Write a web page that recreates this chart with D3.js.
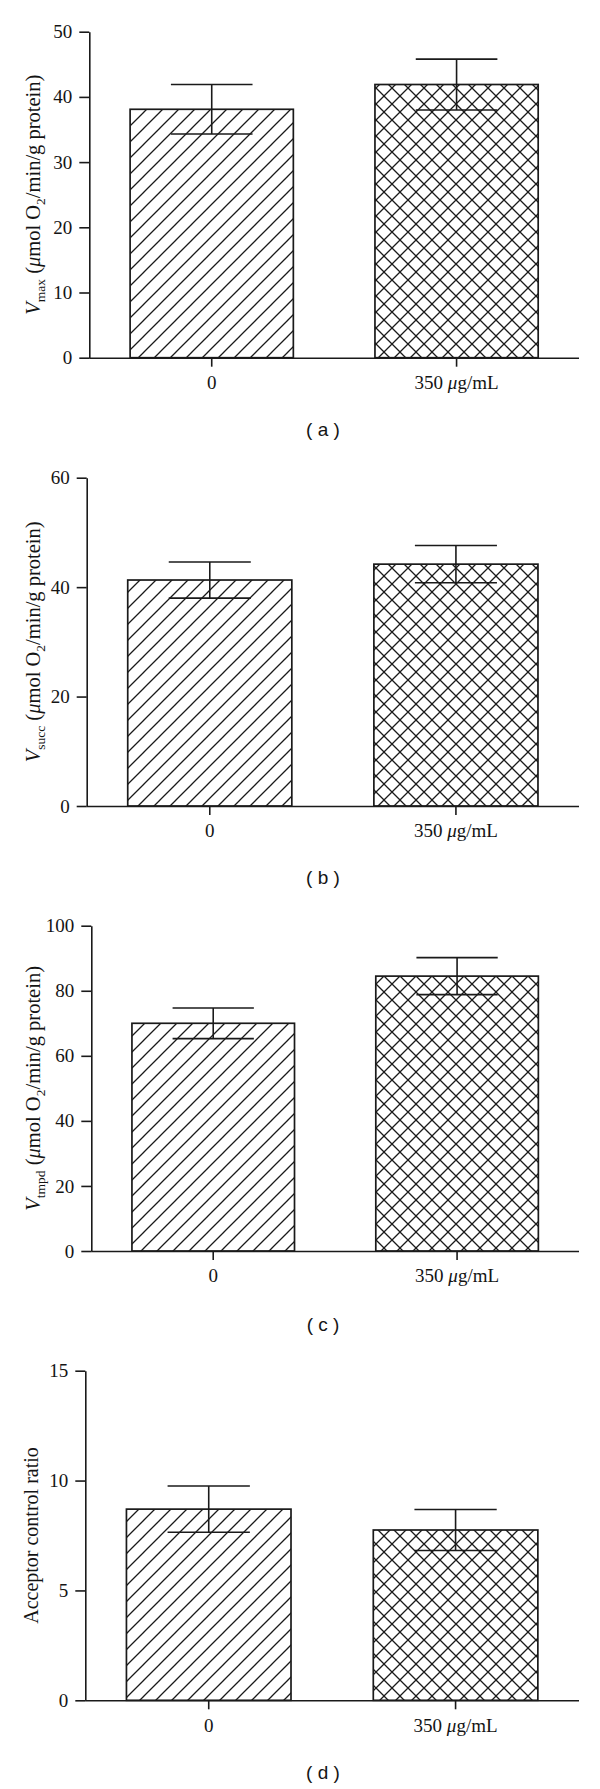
<!DOCTYPE html>
<html lang="en">
<head>
<meta charset="UTF-8">
<title>Mitochondrial respiration panels</title>
<script src="https://d3js.org/d3.v7.min.js"></script>
<style>
    body { margin: 0; background: #fff; }
    svg text { font-family: "Liberation Serif", "Times New Roman", serif; fill: #141414; }
    .tick text { font-size: 19px; }
    .ylab { font-size: 20.5px; }
    .ylab.plain { font-size: 20px; }
    .caption { font-family: "Liberation Sans", Arial, sans-serif; font-size: 19px; }
</style>
</head>
<body>
<svg width="600" height="1789"></svg>
<script>
    // categories on the x axis
    const groups = ["0", "350 μg/mL"];
    const captions = ["( a )", "( b )", "( c )", "( d )"];

    // means and SEM
    const vmaxMean = [38.1, 41.9];
    const vmaxSem = [3.8, 3.9];
    const vsuccMean = [41.3, 44.2];
    const vsuccSem = [3.3, 3.4];
    const vtmpdMean = [70.0, 84.5];
    const vtmpdSem = [4.7, 5.7];
    const acrMean = [8.7, 7.75];
    const acrSem = [1.05, 0.93];

    // y axis ticks
    const vmaxTicks = [0, 10, 20, 30, 40, 50];
    const vsuccTicks = [0, 20, 40, 60];
    const vtmpdTicks = [0, 20, 40, 60, 80, 100];
    const acrTicks = [0, 5, 10, 15];

    // axis titles (subscript parts)
    const vSubs = ["max", "succ", "tmpd", null];

    const panels = [
        {mean: vmaxMean, sem: vmaxSem, ticks: vmaxTicks, sub: vSubs[0], cap: captions[0],
         top: 31.7, bottom: 357.7, left: 89.3, labX: 33, capY: 436},
        {mean: vsuccMean, sem: vsuccSem, ticks: vsuccTicks, sub: vSubs[1], cap: captions[1],
         top: 477.7, bottom: 806, left: 86.7, labX: 33, capY: 884},
        {mean: vtmpdMean, sem: vtmpdSem, ticks: vtmpdTicks, sub: vSubs[2], cap: captions[2],
         top: 925.7, bottom: 1251, left: 91.3, labX: 33, capY: 1331},
        {mean: acrMean, sem: acrSem, ticks: acrTicks, sub: vSubs[3], cap: captions[3],
         top: 1370.7, bottom: 1700.3, left: 85.3, labX: 31, capY: 1779}
    ];
    const right = 579;
    const ink = "#1a1a1a";

    const svg = d3.select("svg");

    // hatch patterns
    const defs = svg.append("defs");
    const p1 = defs.append("pattern").attr("id", "diag")
        .attr("patternUnits", "userSpaceOnUse").attr("width", 16).attr("height", 16);
    p1.append("rect").attr("width", 16).attr("height", 16).attr("fill", "#fff");
    p1.append("path").attr("d", "M-4,4L4,-4M0,16L16,0M12,20L20,12")
        .attr("stroke", ink).attr("stroke-width", 1.3);
    const p2 = defs.append("pattern").attr("id", "cross")
        .attr("patternUnits", "userSpaceOnUse").attr("width", 16).attr("height", 16);
    p2.append("rect").attr("width", 16).attr("height", 16).attr("fill", "#fff");
    p2.append("path").attr("d", "M-4,4L4,-4M0,16L16,0M12,20L20,12M-4,12L4,20M0,0L16,16M12,-4L20,4")
        .attr("stroke", ink).attr("stroke-width", 1.3);
    const fills = ["url(#diag)", "url(#cross)"];

    panels.forEach(function (p) {
        const g = svg.append("g");

        const x = d3.scaleBand().domain(groups)
            .range([p.left, right])
            .paddingInner(1 / 3).paddingOuter(1 / 6);
        const y = d3.scaleLinear()
            .domain([0, p.ticks[p.ticks.length - 1]])
            .range([p.bottom, p.top]);

        // bars
        g.selectAll("rect.bar").data(groups).enter().append("rect")
            .attr("class", "bar")
            .attr("x", d => x(d))
            .attr("width", x.bandwidth())
            .attr("y", (d, i) => y(p.mean[i]))
            .attr("height", (d, i) => y(0) - y(p.mean[i]))
            .attr("fill", (d, i) => fills[i])
            .attr("stroke", ink).attr("stroke-width", 1.7);

        // error bars
        const eb = g.selectAll("g.err").data(groups).enter().append("g").attr("class", "err")
            .attr("stroke", ink).attr("stroke-width", 1.6);
        const cx = d => x(d) + x.bandwidth() / 2;
        const cw = x.bandwidth() / 4;
        eb.append("line")
            .attr("x1", cx).attr("x2", cx)
            .attr("y1", (d, i) => y(p.mean[i] + p.sem[i]))
            .attr("y2", (d, i) => y(p.mean[i] - p.sem[i]));
        eb.append("line")
            .attr("x1", d => cx(d) - cw).attr("x2", d => cx(d) + cw)
            .attr("y1", (d, i) => y(p.mean[i] + p.sem[i]))
            .attr("y2", (d, i) => y(p.mean[i] + p.sem[i]));
        eb.append("line")
            .attr("x1", d => cx(d) - cw).attr("x2", d => cx(d) + cw)
            .attr("y1", (d, i) => y(p.mean[i] - p.sem[i]))
            .attr("y2", (d, i) => y(p.mean[i] - p.sem[i]));

        // axes
        const ya = g.append("g").attr("transform", `translate(${p.left},0)`)
            .call(d3.axisLeft(y).tickValues(p.ticks).tickSize(10).tickSizeOuter(0).tickPadding(7));
        const xa = g.append("g").attr("transform", `translate(0,${p.bottom})`)
            .call(d3.axisBottom(x).tickSize(9).tickSizeOuter(0).tickPadding(9));
        [ya, xa].forEach(function (a) {
            a.attr("font-family", null).attr("font-size", null);
            a.selectAll("path, line").attr("stroke", ink).attr("stroke-width", 1.6);
        });
        xa.select(".domain").attr("d", `M${p.left},0.5H${right}`);

        // italic mu in the dose label
        xa.selectAll(".tick text").filter(d => d !== "0").each(function () {
            const t = d3.select(this).text("");
            t.append("tspan").text("350 ");
            t.append("tspan").attr("font-style", "italic").text("μ");
            t.append("tspan").text("g/mL");
        });

        // y axis title
        const lab = g.append("text").attr("class", p.sub ? "ylab" : "ylab plain")
            .attr("text-anchor", "middle")
            .attr("transform", `translate(${p.labX},${(p.top + p.bottom) / 2}) rotate(-90)`)
            .attr("dy", "0.35em");
        if (p.sub) {
            lab.append("tspan").attr("font-style", "italic").text("V");
            lab.append("tspan").attr("font-size", "13.5px").attr("dy", 5).text(p.sub);
            lab.append("tspan").attr("dy", -5).text(" (");
            lab.append("tspan").attr("font-style", "italic").text("μ");
            lab.append("tspan").text("mol O");
            lab.append("tspan").attr("font-size", "13.5px").attr("dy", 5).text("2");
            lab.append("tspan").attr("dy", -5).text("/min/g protein)");
        } else {
            lab.text("Acceptor control ratio");
        }

        // panel caption
        svg.append("text").attr("class", "caption")
            .attr("x", 323).attr("y", p.capY)
            .attr("text-anchor", "middle")
            .text(p.cap);
    });
</script>
</body>
</html>
